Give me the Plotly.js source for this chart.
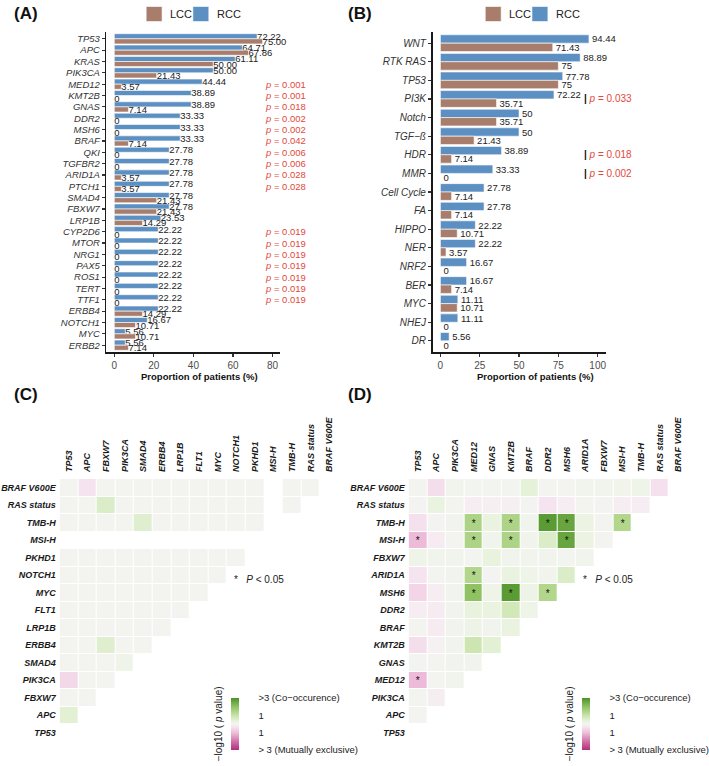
<!DOCTYPE html>
<html><head><meta charset="utf-8">
<script src="https://cdn.plot.ly/plotly-3.0.1.min.js"></script>
<style>html,body{margin:0;padding:0;background:#fff}#chart{width:709px;height:766px}</style>
</head><body><div id="chart"></div>
<script>
// ---------- Panel A data ----------
const genesA = ['TP53','APC','KRAS','PIK3CA','MED12','KMT2B','GNAS','DDR2','MSH6','BRAF','QKI','TGFBR2','ARID1A','PTCH1','SMAD4','FBXW7','LRP1B','CYP2D6','MTOR','NRG1','PAX5','ROS1','TERT','TTF1','ERBB4','NOTCH1','MYC','ERBB2'];
const rccA = [72.22,64.71,61.11,50.00,44.44,38.89,38.89,33.33,33.33,33.33,27.78,27.78,27.78,27.78,27.78,27.78,23.53,22.22,22.22,22.22,22.22,22.22,22.22,22.22,22.22,16.67,5.56,5.56];
const lccA = [75.00,67.86,50.00,21.43,3.57,0,7.14,0,0,7.14,0,0,3.57,3.57,21.43,21.43,14.29,0,0,0,0,0,0,0,14.29,10.71,10.71,7.14];
const pA = ['','','','','0.001','0.001','0.018','0.002','0.002','0.042','0.006','0.006','0.028','0.028','','','','0.019','0.019','0.019','0.019','0.019','0.019','0.019','','','',''];
const ticksA = [0,20,40,60,80];

// ---------- Panel B data ----------
const pathwaysB = ['WNT','RTK RAS','TP53','PI3K','Notch','TGF\u2212\u00df','HDR','MMR','Cell Cycle','FA','HIPPO','NER','NRF2','BER','MYC','NHEJ','DR'];
const rccB = [94.44,88.89,77.78,72.22,50,50,38.89,33.33,27.78,27.78,22.22,22.22,16.67,16.67,11.11,11.11,5.56];
const lccB = [71.43,75,75,35.71,35.71,21.43,7.14,0,7.14,7.14,10.71,3.57,0,7.14,10.71,0,0];
const pB = ['','','','0.033','','','0.018','0.002','','','','','','','','',''];
const ticksB = [0,25,50,75,100];

// ---------- Panel C data (lower triangle, rows top -> bottom) ----------
const colsC = ['TP53','APC','FBXW7','PIK3CA','SMAD4','ERBB4','LRP1B','FLT1','MYC','NOTCH1','PKHD1','MSI-H','TMB-H','RAS status','BRAF V600E'];
const rowsC = ['BRAF V600E','RAS status','TMB-H','MSI-H','PKHD1','NOTCH1','MYC','FLT1','LRP1B','ERBB4','SMAD4','PIK3CA','FBXW7','APC','TP53'];
const triC = [
  [0.03,-0.35,0.03,0.03,0.03,0.03,0.03,0.03,0.03,0.03,0.03,null,0.04,0.04],
  [0.03,0.03,0.6,0.03,0.03,0.03,0.03,0.03,0.03,0.03,0.03,null,0.04],
  [0.03,0.03,0.03,0.03,0.5,0.03,0.03,0.03,0.03,0.03,0.03,null],
  [null,null,null,null,null,null,null,null,null,null,null],
  [0.03,0.03,0.03,0.03,0.03,0.03,0.03,0.03,0.03,0.04],
  [0.03,0.03,0.03,0.03,0.03,0.03,0.03,0.03,0.03],
  [0.03,0.03,0.03,0.03,0.03,0.03,0.03,0.03],
  [0.03,0.03,0.03,0.03,0.03,0.03,0.03],
  [0.03,0.03,0.03,0.03,0.03,0.04],
  [0.03,0.03,0.5,0.03,0.03],
  [0.03,0.03,0.03,0.15],
  [-0.55,0.03,0.03],
  [0.03,0.03],
  [0.45],
  []
];
const starsC = [];

// ---------- Panel D data (lower triangle, rows top -> bottom) ----------
const colsD = ['TP53','APC','PIK3CA','MED12','GNAS','KMT2B','BRAF','DDR2','MSH6','ARID1A','FBXW7','MSI-H','TMB-H','RAS status','BRAF V600E'];
const rowsD = ['BRAF V600E','RAS status','TMB-H','MSI-H','FBXW7','ARID1A','MSH6','DDR2','BRAF','KMT2B','GNAS','MED12','PIK3CA','APC','TP53'];
const triD = [
  [0.03,-0.45,0.1,0.05,0.05,0.05,0.4,0.04,0.04,0.1,0.1,0.12,0.15,-0.4],
  [0.02,0.3,0.04,-0.15,-0.1,-0.1,0.02,-0.35,-0.15,0.03,0.02,-0.15,-0.15],
  [-0.4,0.02,0.08,1.5,0.3,1.5,0.08,2.8,2.6,0.25,0.03,1.4],
  [-1.05,-0.2,0.03,1.5,0.1,1.5,0.1,0.6,2.6,0.25,0.03],
  [0.15,0.08,0.08,0.05,0.35,0.1,0.08,0.08,0.05,0.08],
  [-0.35,0.03,0.08,1.4,0.02,0.3,0.15,0.1,0.6],
  [-0.6,-0.15,0.08,2.0,0.15,2.8,0.2,1.4],
  [-0.15,-0.2,0.08,0.35,0.3,0.8,0.15],
  [0.03,-0.2,0.08,0.2,0.08,0.3],
  [-0.45,-0.08,0.1,0.9,0.45],
  [0.02,0.03,0.1,0.08],
  [-1.05,0.03,0.1],
  [0.03,-0.12],
  [0.03],
  []
];
const starsD = [['TMB-H','MED12'],['TMB-H','KMT2B'],['TMB-H','DDR2'],['TMB-H','MSH6'],['TMB-H','MSI-H'],
  ['MSI-H','TP53'],['MSI-H','MED12'],['MSI-H','KMT2B'],['MSI-H','MSH6'],
  ['ARID1A','MED12'],['MSH6','MED12'],['MSH6','KMT2B'],['MSH6','DDR2'],['MED12','TP53']];

const groups = ['LCC','RCC'];
const cbTickVals = [3,1,-1,-3];
const cbTickText = ['>3 (Co\u2212occurence)','1','1','> 3 (Mutually exclusive)'];

// ---------- styling ----------
const W = 709, H = 766;
const px = v => v / W, py = v => 1 - v / H;
const LCC = '#a87d6b', RCC = '#5c8fc2', RED = '#e4483c';
const groupColors = [LCC, RCC];
const FONT = 'Liberation Sans, Arial, sans-serif';
const fmtA = v => v === 0 ? '0' : v.toFixed(2);
const fmtB = v => String(v);

function fullMatrix(rows, cols, tri) {
  return rows.map((r, i) => cols.map((c, j) => (j < tri[i].length ? tri[i][j] : null)));
}
function starMatrix(rows, cols, stars) {
  return rows.map(r => cols.map(c => stars.some(s => s[0] === r && s[1] === c) ? '*' : ''));
}

const CS = [
  [0.0, '#b0307a'], [0.1667, '#d272a9'], [0.3333, '#eebfdb'], [0.45, '#f6e6f0'],
  [0.5, '#f4f4f2'], [0.55, '#eaf3e0'], [0.6667, '#c8e3a8'], [0.8333, '#8fc263'], [1.0, '#4e9127']
];

function barTrace(name, y, x, fmt, color, xa, ya) {
  return {
    type: 'bar', orientation: 'h', name: name, y: y, x: x, xaxis: xa, yaxis: ya,
    marker: { color: color, line: { color: '#ffffff', width: 0.6 } },
    text: x.map(fmt), textposition: 'outside', constraintext: 'none', cliponaxis: false,
    textfont: { size: 9.5, color: '#222', family: FONT },
    showlegend: false, hoverinfo: 'skip'
  };
}

function colorbar(xLeft) {
  return {
    x: px(xLeft), xanchor: 'left', y: py(724), yanchor: 'middle',
    len: 52, lenmode: 'pixels', thickness: 8, thicknessmode: 'pixels',
    xpad: 0, ypad: 0, outlinewidth: 0,
    tickvals: cbTickVals, ticktext: cbTickText, ticks: 'outside', ticklen: 18,
    tickcolor: 'rgba(0,0,0,0)', tickfont: { size: 9.5, color: '#222', family: FONT }
  };
}

function heatTrace(rows, cols, tri, stars, xa, ya, cbx) {
  return {
    type: 'heatmap', x: cols, y: rows, z: fullMatrix(rows, cols, tri),
    text: starMatrix(rows, cols, stars), texttemplate: '%{text}',
    textfont: { size: 10, color: '#111', family: FONT },
    xaxis: xa, yaxis: ya, zmin: -3, zmax: 3, colorscale: CS,
    xgap: 1, ygap: 1, hoverinfo: 'skip', colorbar: colorbar(cbx)
  };
}

const data = [
  barTrace('RCC', genesA, rccA, fmtA, RCC, 'x', 'y'),
  barTrace('LCC', genesA, lccA, fmtA, LCC, 'x', 'y'),
  barTrace('RCC', pathwaysB, rccB, fmtB, RCC, 'x2', 'y2'),
  barTrace('LCC', pathwaysB, lccB, fmtB, LCC, 'x2', 'y2'),
  heatTrace(rowsC, colsC, triC, starsC, 'x3', 'y3', 232),
  heatTrace(rowsD, colsD, triD, starsD, 'x4', 'y4', 585)
];

const barX = (dom, range, tv, anchor) => ({
  domain: dom, anchor: anchor, range: range, tickvals: tv,
  showline: true, linecolor: '#1a1a1a', linewidth: 1.6,
  ticks: 'outside', ticklen: 3, tickwidth: 1.2, tickcolor: '#333',
  tickfont: { size: 10, color: '#4d4d4d', family: FONT },
  showgrid: false, zeroline: false, fixedrange: true
});
const barY = (n, anchor, fs) => ({
  domain: [py(352), py(32)], anchor: anchor, range: [n - 1 + 0.6, -0.6],
  showline: true, linecolor: '#1a1a1a', linewidth: 1.6,
  ticks: 'outside', ticklen: 3, tickwidth: 1.2, tickcolor: '#333',
  tickfont: { size: fs, color: '#333', style: 'italic', family: FONT },
  showgrid: false, zeroline: false, fixedrange: true
});
const hmFont = { size: 9, color: '#1a1a1a', weight: 'bold', style: 'italic', family: FONT };
const hmX = (dom, anchor) => ({
  domain: dom, anchor: anchor, side: 'top', tickangle: -90, range: [-0.5, 14.5],
  tickfont: hmFont, ticks: '', showline: false, showgrid: false, zeroline: false,
  ticklabelstandoff: 6, fixedrange: true
});
const hmY = (anchor) => ({
  domain: [py(741.5), py(479)], anchor: anchor, range: [14.5, -0.5],
  tickfont: hmFont, ticks: '', showline: false, showgrid: false, zeroline: false,
  ticklabelstandoff: 3, fixedrange: true
});

const ann = [];
const shapes = [];

// legends (keys drawn for the two bar panels)
function legendKeys(x0) {
  groups.forEach((g, i) => {
    const left = x0 + i * 47;
    shapes.push({ type: 'rect', xref: 'paper', yref: 'paper', x0: px(left), x1: px(left + 16), y0: py(21.5), y1: py(6.5),
      fillcolor: groupColors[i], line: { color: '#ffffff', width: 0.6 } });
    ann.push({ xref: 'paper', yref: 'paper', x: px(left + 22), y: py(14), xanchor: 'left', yanchor: 'middle',
      text: g, showarrow: false, font: { size: 11, color: '#222', family: FONT } });
  });
}
legendKeys(147); legendKeys(488);

const panelLbl = (t, x, y) => ann.push({ xref: 'paper', yref: 'paper', x: px(x), y: py(y), xanchor: 'left', yanchor: 'middle',
  text: '<b>' + t + '</b>', showarrow: false, font: { size: 17, color: '#111', family: FONT } });
panelLbl('(A)', 12, 14); panelLbl('(B)', 348, 14); panelLbl('(C)', 12, 394); panelLbl('(D)', 348, 394);

const xTitle = (x) => ann.push({ xref: 'paper', yref: 'paper', x: px(x), y: py(376), xanchor: 'center', yanchor: 'middle',
  text: '<b>Proportion of patients (%)</b>', showarrow: false, font: { size: 9.5, color: '#111', family: FONT } });
xTitle(201); xTitle(539);

genesA.forEach((g, i) => {
  if (pA[i]) ann.push({ xref: 'x', yref: 'y', x: 75.3, y: g, xanchor: 'left', yanchor: 'middle',
    text: '<i>p</i> = ' + pA[i], showarrow: false, font: { size: 9.5, color: RED, family: FONT } });
});
pathwaysB.forEach((g, i) => {
  if (pB[i]) ann.push({ xref: 'x2', yref: 'y2', x: 90.3, y: g, xanchor: 'left', yanchor: 'middle',
    text: '<span style="color:#111;font-weight:bold">|</span> <i>p</i> = ' + pB[i], showarrow: false,
    font: { size: 10, color: RED, family: FONT } });
});

const sigNote = (x) => ann.push({ xref: 'paper', yref: 'paper', x: px(x), y: py(579), xanchor: 'left', yanchor: 'middle',
  text: '*\u00a0\u00a0\u00a0<i>P</i> < 0.05', showarrow: false, font: { size: 10, color: '#222', family: FONT } });
sigNote(233); sigNote(584);

const cbTitle = (x) => ann.push({ xref: 'paper', yref: 'paper', x: px(x), y: py(724), xanchor: 'center', yanchor: 'middle',
  textangle: -90, text: '\u2212log10 ( <i>p</i> value)', showarrow: false, font: { size: 10, color: '#222', family: FONT } });
cbTitle(219.5); cbTitle(572.5);

const layout = {
  width: W, height: H, margin: { l: 0, r: 0, t: 0, b: 0 },
  paper_bgcolor: '#fff', plot_bgcolor: 'rgba(0,0,0,0)',
  font: { family: FONT, color: '#222' },
  barmode: 'group', bargap: 0.1, bargroupgap: 0,
  showlegend: false,
  xaxis: barX([px(107), px(282)], [-4, 84], ticksA, 'y'),
  yaxis: barY(genesA.length, 'x', 9.5),
  xaxis2: barX([px(435), px(609)], [-5, 105], ticksB, 'y2'),
  yaxis2: barY(pathwaysB.length, 'x2', 10),
  xaxis3: hmX([px(60), px(340.5)], 'y3'),
  yaxis3: hmY('x3'),
  xaxis4: hmX([px(411), px(691.5)], 'y4'),
  yaxis4: hmY('x4'),
  annotations: ann,
  shapes: shapes
};

Plotly.newPlot('chart', data, layout, { displayModeBar: false, staticPlot: true });
</script></body></html>
